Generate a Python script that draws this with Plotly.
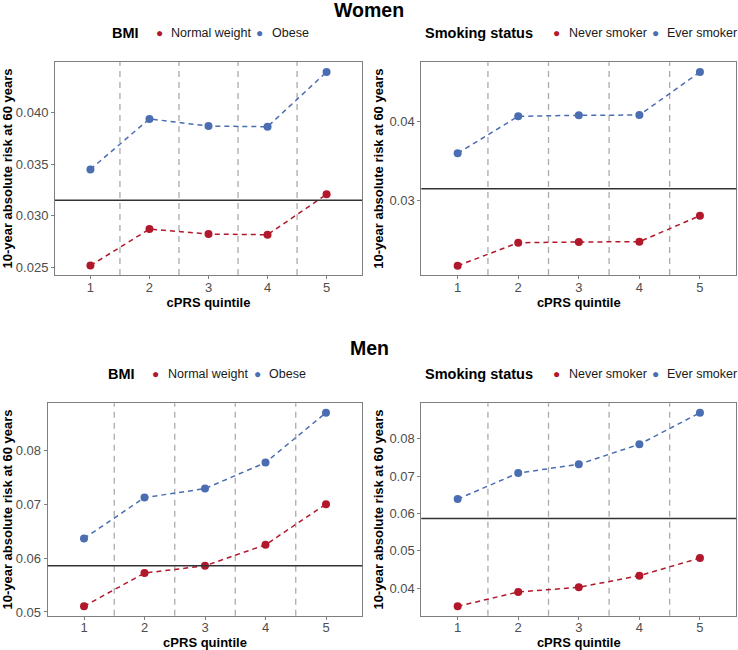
import plotly.graph_objects as go

quintiles = [1, 2, 3, 4, 5]

# Women
women_bmi_normal = [0.02516, 0.02871, 0.02822, 0.02816, 0.03208]
women_bmi_obese = [0.0345, 0.0394, 0.0387, 0.03864, 0.04395]
women_smk_never = [0.02184, 0.02473, 0.02482, 0.02486, 0.02812]
women_smk_ever = [0.03595, 0.04059, 0.04072, 0.04075, 0.04615]
women_ref = 0.0315

# Men
men_bmi_normal = [0.05106, 0.05722, 0.05857, 0.06247, 0.0700]
men_bmi_obese = [0.06364, 0.07122, 0.07289, 0.07772, 0.08698]
men_smk_never = [0.0351, 0.03893, 0.04019, 0.0433, 0.04804]
men_smk_ever = [0.06383, 0.0708, 0.07313, 0.0785, 0.08696]
men_ref = 0.0586

dividers = [1.5, 2.5, 3.5, 4.5]

RED = "#B2182B"
BLUE = "#4A6EB1"
FONT = "Liberation Sans"
W, H = 738, 650

def px_x(a, b):
    return [a / W, b / W]

def px_y(top, bottom):
    return [1 - bottom / H, 1 - top / H]

panels = [
    dict(x=px_x(55, 362), y=px_y(62, 275), yr=[0.02425, 0.04492],
         tv=[0.025, 0.030, 0.035, 0.040], fmt=".3f",
         series=[("Normal weight", women_bmi_normal, RED), ("Obese", women_bmi_obese, BLUE)],
         ref=women_ref, ltitle="BMI", ly=33,
         lpos=[110, 159.3, 169, 259.3, 270]),
    dict(x=px_x(421.3, 736.3), y=px_y(62.3, 275), yr=[0.02068, 0.04737],
         tv=[0.03, 0.04], fmt=".2f",
         series=[("Never smoker", women_smk_never, RED), ("Ever smoker", women_smk_ever, BLUE)],
         ref=women_ref, ltitle="Smoking status", ly=33,
         lpos=[423, 556.7, 567, 655, 665.3]),
    dict(x=px_x(47.7, 362.3), y=px_y(403.3, 615.7), yr=[0.04931, 0.08872],
         tv=[0.05, 0.06, 0.07, 0.08], fmt=".2f",
         series=[("Normal weight", men_bmi_normal, RED), ("Obese", men_bmi_obese, BLUE)],
         ref=men_ref, ltitle="BMI", ly=374,
         lpos=[106, 155.3, 165.7, 257.3, 266.7]),
    dict(x=px_x(421.3, 736.3), y=px_y(403.3, 615.7), yr=[0.03258, 0.08948],
         tv=[0.04, 0.05, 0.06, 0.07, 0.08], fmt=".2f",
         series=[("Never smoker", men_smk_never, RED), ("Ever smoker", men_smk_ever, BLUE)],
         ref=men_ref, ltitle="Smoking status", ly=374,
         lpos=[423, 556.7, 567, 655, 665.3]),
]

fig = go.Figure()
layout = dict(
    width=W, height=H, margin=dict(l=0, r=0, t=0, b=0, autoexpand=False),
    paper_bgcolor="white", plot_bgcolor="white",
    font=dict(family=FONT, size=13, color="#000000"),
    shapes=[], annotations=[], showlegend=False,
)

def ann(text, xpx, ypx, size, color="#000000", xanchor="left"):
    return dict(text=text, x=xpx / W, y=1 - ypx / H, xref="paper", yref="paper",
                showarrow=False, xanchor=xanchor, yanchor="middle",
                font=dict(size=size, color=color, family=FONT))

for i, p in enumerate(panels, start=1):
    xa = "x" if i == 1 else f"x{i}"
    ya = "y" if i == 1 else f"y{i}"
    xkey = "xaxis" if i == 1 else f"xaxis{i}"
    ykey = "yaxis" if i == 1 else f"yaxis{i}"
    for name, vals, col in p["series"]:
        fig.add_trace(go.Scatter(x=quintiles, y=vals, mode="lines+markers", xaxis=xa, yaxis=ya,
                                 line=dict(color=col, width=1.5, dash="5px,4px"),
                                 marker=dict(color=col, size=8), name=name))
    layout[xkey] = dict(domain=p["x"], anchor=ya, range=[0.4, 5.6], automargin=False,
                        tickvals=quintiles, showgrid=False, zeroline=False,
                        showline=True, mirror=True, linecolor="#7F7F7F", linewidth=1,
                        ticks="outside", ticklen=3, tickcolor="#7F7F7F",
                        ticklabelstandoff=-3,
                        tickfont=dict(size=13, color="#4D4D4D"),
                        title=dict(text="<b>cPRS quintile</b>", font=dict(size=13), standoff=0))
    layout[ykey] = dict(domain=p["y"], anchor=xa, range=p["yr"], automargin=False,
                        tickvals=p["tv"], tickformat=p["fmt"], showgrid=False, zeroline=False,
                        showline=True, mirror=True, linecolor="#7F7F7F", linewidth=1,
                        ticks="outside", ticklen=3, tickcolor="#7F7F7F",
                        tickfont=dict(size=13, color="#4D4D4D"),
                        title=dict(text="<b>10-year absolute risk at 60 years</b>",
                                   font=dict(size=13), standoff=2))
    for d in dividers:
        layout["shapes"].append(dict(type="line", xref=xa, yref=f"{ya} domain",
                                     x0=d, x1=d, y0=0, y1=1,
                                     line=dict(color="#ABABAB", width=1.3, dash="6px,5px"),
                                     layer="below"))
    layout["shapes"].append(dict(type="line", xref=f"{xa} domain", yref=ya,
                                 x0=0, x1=1, y0=p["ref"], y1=p["ref"],
                                 line=dict(color="#333333", width=1.5)))
    # legend (drawn as text)
    lp = p["lpos"]
    (n1, _, c1), (n2, _, c2) = p["series"]
    layout["annotations"] += [
        ann(f"<b>{p['ltitle']}</b>", lp[0], p["ly"], 14.5),
        ann("●", lp[1], p["ly"], 12, c1, "center"),
        ann(n1, lp[2], p["ly"], 12.5, "#1A1A1A"),
        ann("●", lp[3], p["ly"], 12, c2, "center"),
        ann(n2, lp[4], p["ly"], 12.5, "#1A1A1A"),
    ]

layout["annotations"].append(ann("<b>Women</b>", 369, 10, 19.5, xanchor="center"))
layout["annotations"].append(ann("<b>Men</b>", 369, 348, 19.5, xanchor="center"))

fig.update_layout(**layout)
fig.write_html("out.html", config={"displayModeBar": False},
               post_script="document.body.style.margin='0';document.body.style.padding='0';")
